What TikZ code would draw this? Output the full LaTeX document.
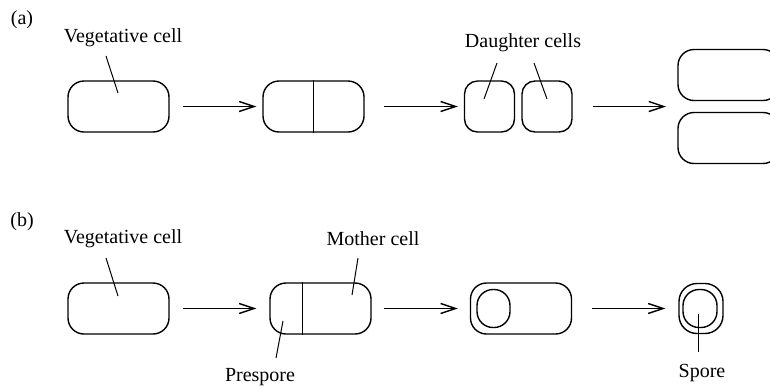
\documentclass[tikz,border=0pt]{standalone}
\usepackage{fontspec}
\setmainfont{Liberation Serif}
\usetikzlibrary{arrows.meta,positioning}

\begin{document}
\begin{tikzpicture}[x=0.5pt,y=-0.5pt,
		cell/.style={draw,line width=0.7pt,rounded corners=8pt,minimum width=50.5pt,minimum height=25.5pt,inner sep=0pt},
		dcell/.style={cell,rounded corners=6.5pt,minimum width=25pt},
		fspore/.style={draw,line width=0.7pt,rounded corners=8pt,minimum width=16.5pt,minimum height=19pt,inner sep=0pt},
		stage/.style={line width=0.7pt,-{Straight Barb[length=7.5pt,width=5pt]}},
		lead/.style={line width=0.5pt}]
		\clip (0,0) rectangle (770,388);
		\node at (22,20) {(a)};
		\node at (22,222) {(b)};
		\node (va) at (123,38) {Vegetative cell};
		\node (vb) at (123,239) {Vegetative cell};
		\node (dl) at (523,43) {Daughter cells};
		\node (ml) at (373,239) {Mother cell};
		\node (pl) at (260,377) {Prespore};
		\node (sl) at (702,373) {Spore};
		\node[cell] (a1) at (118.5,106.5) {};
		\node[cell] (a2) at (313.5,106.5) {};
		\draw[line width=0.7pt] (a2.north) -- (a2.south);
		\node[dcell] (d1) at (489.5,106.5) {};
		\node[dcell] (d2) at (547,106.5) {};
		\node[cell] (t1) at (728.5,75) {};
		\node[cell] (t2) at (728.5,138) {};
		\coordinate (tm) at (679,106.5);
		\node[cell] (b1) at (118.5,308.5) {};
		\node[cell] (b2) at (320.5,308.5) {};
		\draw[line width=0.7pt] ([xshift=-9pt]b2.north) -- ([xshift=-9pt]b2.south);
		\node[cell] (b3) at (521,308.5) {};
		\node[fspore] (f3) at (493.5,308.5) {};
		\node[fspore,minimum width=22pt,minimum height=25pt,rounded corners=9pt] (s4) at (701,308.5) {};
		\node[fspore,minimum width=17pt] (f4) at (700,308.5) {};
		\draw[stage,shorten <=6.5pt,shorten >=3pt] (a1) -- (a2);
		\draw[stage,shorten <=9.5pt,shorten >=3pt] (a2) -- (d1);
		\draw[stage,shorten <=10pt,shorten >=6.5pt] (d2) -- (tm);
		\draw[stage,shorten <=6.5pt,shorten >=6.5pt] (b1) -- (b2);
		\draw[stage,shorten <=6pt,shorten >=6pt] (b2) -- (b3);
		\draw[stage,shorten <=10pt,shorten >=6.5pt] (b3) -- (s4);
		\coordinate (va1) at (106,56); \coordinate (va2) at (118,93);
		\coordinate (vb1) at (106,258); \coordinate (vb2) at (118,296);
		\coordinate (dl1) at (497,63); \coordinate (dl2) at (484,99);
		\coordinate (dr1) at (534,63); \coordinate (dr2) at (547,99);
		\coordinate (ml1) at (358,258); \coordinate (ml2) at (352,295);
		\coordinate (pl1) at (283,321); \coordinate (pl2) at (276,358);
		\coordinate (sl1) at (698,314); \coordinate (sl2) at (698,352);
		\draw[lead] (va1) -- (va2);
		\draw[lead] (vb1) -- (vb2);
		\draw[lead] (dl1) -- (dl2);
		\draw[lead] (dr1) -- (dr2);
		\draw[lead] (ml1) -- (ml2);
		\draw[lead] (pl1) -- (pl2);
		\draw[lead] (sl1) -- (sl2);
\end{tikzpicture}
\end{document}
